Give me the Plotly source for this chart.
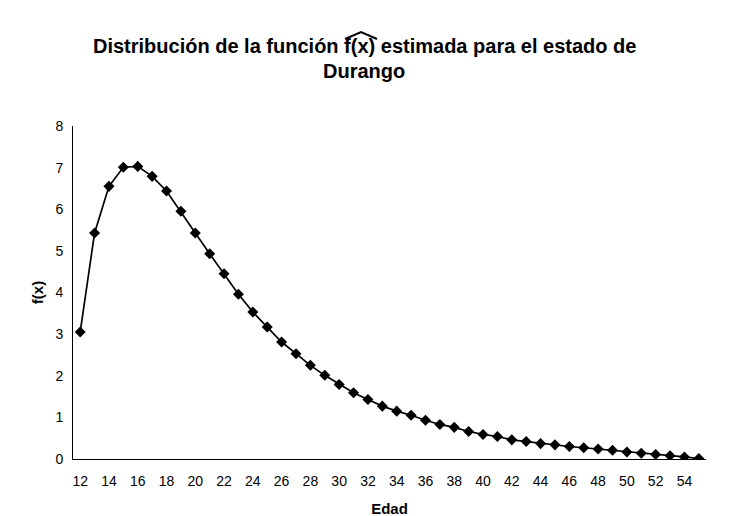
import plotly.graph_objects as go

edad = list(range(12, 56))
fx = [3.05, 5.43, 6.55, 7.01, 7.03, 6.79, 6.44, 5.95, 5.43, 4.93, 4.45, 3.96,
      3.53, 3.17, 2.81, 2.53, 2.25, 2.01, 1.79, 1.59, 1.43, 1.27, 1.15, 1.05,
      0.93, 0.83, 0.76, 0.66, 0.59, 0.54, 0.46, 0.42, 0.37, 0.34, 0.30, 0.27,
      0.24, 0.21, 0.17, 0.14, 0.11, 0.08, 0.05, 0.01]
x_ticks = list(range(12, 55, 2))
y_ticks = list(range(0, 9))

title_line1 = "Distribución de la función f(x) estimada para el estado de"
title_line2 = "Durango"

# the page body adds an 8px offset, so figure coords = page coords - 8
W, H = 730, 516
L, R, T, B = 65, 32, 118, 65
PW, PH = W - L - R, H - T - B


def px(xf):
    return (xf - L) / PW


def py(yf):
    return (H - B - yf) / PH


fig = go.Figure()
fig.add_trace(go.Scatter(
    x=edad, y=fx, mode="lines+markers",
    line=dict(color="black", width=1.7),
    marker=dict(symbol="diamond", size=8.5, color="black"),
    showlegend=False,
))

font_family = "Arial, Liberation Sans, sans-serif"
fig.update_layout(
    width=W, height=H,
    paper_bgcolor="white", plot_bgcolor="white",
    margin=dict(l=L, r=R, t=T, b=B),
    font=dict(family=font_family, color="black"),
)
fig.add_annotation(text="<b>" + title_line1 + "</b>", xref="paper", yref="paper",
                   x=px(356), y=py(38), xanchor="center", yanchor="middle",
                   showarrow=False, font=dict(family=font_family, size=20, color="black"))
fig.add_annotation(text="<b>" + title_line2 + "</b>", xref="paper", yref="paper",
                   x=px(356), y=py(63), xanchor="center", yanchor="middle",
                   showarrow=False, font=dict(family=font_family, size=20, color="black"))

# hat over f(x) in the title
hat = "M {:.4f} {:.4f} L {:.4f} {:.4f} L {:.4f} {:.4f}".format(
    px(337), py(31), px(353), py(24), px(369), py(31))
fig.add_shape(type="path", path=hat, xref="paper", yref="paper",
              line=dict(color="black", width=2))

fig.update_xaxes(
    range=[11.5, 55.5], tickvals=x_ticks, ticktext=[str(v) for v in x_ticks],
    showgrid=False, zeroline=False, showline=True, linecolor="black", linewidth=1,
    ticks="", ticklabelstandoff=9, automargin=False,
    tickfont=dict(family=font_family, size=14, color="black"),
    title=dict(text="<b>Edad</b>", font=dict(family=font_family, size=15, color="black"), standoff=15),
)
fig.update_yaxes(
    range=[0, 8], tickvals=y_ticks,
    showgrid=False, zeroline=False, showline=True, linecolor="black", linewidth=1,
    ticks="", ticklabelstandoff=6, automargin=False,
    tickfont=dict(family=font_family, size=14, color="black"),
    title=dict(text="<b>f(x)</b>", font=dict(family=font_family, size=15, color="black"), standoff=8),
)

fig.write_html("out.html")
